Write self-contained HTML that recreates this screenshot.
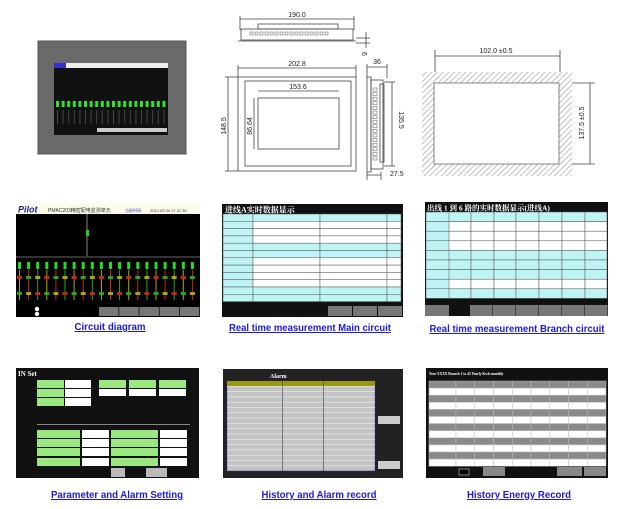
<!DOCTYPE html>
<html><head><meta charset="utf-8"><style>
html,body{margin:0;padding:0;background:#fff;width:624px;height:509px;overflow:hidden}
svg{display:block}
.lb{font-family:"Liberation Sans",Arial,sans-serif;font-weight:bold;font-size:10px;fill:#1a1ae6;text-decoration:underline}
.dim{font-family:"Liberation Sans",sans-serif;font-size:7px;fill:#222}
.cj{font-family:"Liberation Serif","Noto Serif CJK SC",serif;font-weight:bold}
.t{font-family:"Liberation Sans","Noto Sans CJK SC",sans-serif}
</style></head><body>
<svg id="s" width="624" height="509" viewBox="0 0 624 509" xmlns="http://www.w3.org/2000/svg">
<defs>
<pattern id="hatch" width="4" height="4" patternUnits="userSpaceOnUse" patternTransform="rotate(45)">
<rect width="4" height="4" fill="#fff"/><line x1="0" y1="0" x2="0" y2="4" stroke="#999" stroke-width="1.2"/></pattern>
</defs>

<!-- Photo -->
<rect x="38" y="41" width="148" height="113" fill="#6a6a6a" stroke="#555"/>
<rect x="54" y="63" width="114" height="72" fill="#111"/>
<rect x="54" y="63" width="114" height="5" fill="#eee"/>
<rect x="54" y="63" width="12" height="5" fill="#33c"/>
<g id="photoDots"></g>
<rect x="97" y="128" width="70" height="4" fill="#ccc"/>

<!-- top view -->
<g stroke="#444" fill="none" stroke-width="0.8">
<line x1="240" y1="19" x2="354" y2="19"/>
<line x1="240" y1="16" x2="240" y2="30"/><line x1="354" y1="16" x2="354" y2="30"/>
<rect x="258" y="24" width="80" height="5"/>
<rect x="241" y="29" width="112" height="11"/>
<line x1="238" y1="41" x2="356" y2="41"/>
<line x1="356" y1="38" x2="370" y2="38"/><line x1="356" y1="43" x2="370" y2="43"/>
<line x1="366" y1="32" x2="366" y2="48"/>
</g>
<g id="topHoles"></g>
<text class="dim" x="297" y="17" text-anchor="middle">190.0</text>
<text class="dim" x="364" y="54" transform="rotate(90 364 52)">6</text>

<!-- front view -->
<g stroke="#444" fill="none" stroke-width="0.8">
<line x1="238" y1="68" x2="356" y2="68"/>
<line x1="238" y1="65" x2="238" y2="77"/><line x1="356" y1="65" x2="356" y2="77"/>
<rect x="238" y="77" width="118" height="94"/>
<rect x="245" y="81" width="106" height="85"/>
<line x1="258" y1="91" x2="339" y2="91"/>
<rect x="258" y="98" width="81" height="51"/>
<line x1="228" y1="77" x2="228" y2="171"/>
<line x1="225" y1="77" x2="238" y2="77"/><line x1="225" y1="171" x2="238" y2="171"/>
<line x1="254" y1="98" x2="254" y2="149"/>
</g>
<text class="dim" x="297" y="66" text-anchor="middle">202.8</text>
<text class="dim" x="298" y="89" text-anchor="middle">153.6</text>
<text class="dim" x="226" y="126" text-anchor="middle" transform="rotate(-90 226 126)">148.5</text>
<text class="dim" x="252" y="126" text-anchor="middle" transform="rotate(-90 252 126)">86.64</text>

<!-- side view -->
<g stroke="#444" fill="none" stroke-width="0.8">
<line x1="367" y1="67" x2="387" y2="67"/>
<line x1="367" y1="64" x2="367" y2="78"/><line x1="387" y1="64" x2="387" y2="78"/>
<rect x="367" y="77" width="4" height="95"/>
<rect x="371" y="80" width="12" height="89"/>
<rect x="380" y="84" width="4" height="78"/>
<line x1="392" y1="82" x2="392" y2="166"/>
<line x1="384" y1="82" x2="395" y2="82"/><line x1="384" y1="166" x2="395" y2="166"/>
<line x1="367" y1="175" x2="381" y2="175"/>
<line x1="367" y1="172" x2="367" y2="180"/><line x1="381" y1="172" x2="381" y2="180"/>
</g>
<g id="sideHoles"></g>
<text class="dim" x="377" y="64" text-anchor="middle">36</text>
<text class="dim" x="399" y="120" text-anchor="middle" transform="rotate(90 399 120)">135.5</text>
<text class="dim" x="390" y="176">27.5</text>

<!-- cutout -->
<rect x="422" y="72" width="150" height="104" fill="url(#hatch)"/>
<rect x="434" y="83" width="125" height="81" fill="#fff" stroke="#666" stroke-width="0.8"/>
<g stroke="#444" stroke-width="0.8">
<line x1="435" y1="56" x2="560" y2="56"/>
<line x1="435" y1="50" x2="435" y2="72"/><line x1="560" y1="50" x2="560" y2="72"/>
<line x1="590" y1="83" x2="590" y2="164"/>
<line x1="572" y1="83" x2="595" y2="83"/><line x1="572" y1="164" x2="595" y2="164"/>
</g>
<text class="dim" x="496" y="53" text-anchor="middle">102.0 ±0.5</text>
<text class="dim" x="584" y="123" text-anchor="middle" transform="rotate(-90 584 123)">137.5 ±0.5</text>

<!-- Circuit diagram -->
<rect x="16" y="204" width="184" height="113" fill="#000"/>
<rect x="16" y="204" width="184" height="10" fill="#fbfbe8"/>
<text x="18" y="212.5" font-family="Liberation Sans,sans-serif" font-weight="bold" font-style="italic" font-size="9" fill="#1a2a9a">Pilot</text>
<text class="t" x="48" y="212" font-size="5" fill="#333">PMAC203精密配电监测单元</text>
<text class="t" x="125" y="212" font-size="4" fill="#33c">当前时间:</text>
<text class="t" x="150" y="212" font-size="4" fill="#333">2014 03 04 17 21 30</text>
<line x1="87" y1="214" x2="87" y2="256" stroke="#aaa" stroke-width="0.8"/>
<line x1="16" y1="257" x2="200" y2="257" stroke="#888" stroke-width="0.8"/>
<rect x="86" y="230" width="3" height="6" fill="#2c2"/>
<g id="cirg"></g>
<circle cx="37" cy="309" r="2.2" fill="#fff"/><circle cx="37" cy="314" r="2.2" fill="#fff"/>
<g id="cirb"></g>

<!-- Main circuit -->
<rect x="222" y="204" width="181" height="113" fill="#111"/>
<text class="cj" x="225" y="212.5" font-size="8" fill="#fff">进线A实时数据显示</text>
<g id="mainT"></g>
<g id="mainB"></g>

<!-- Branch circuit -->
<rect x="425" y="202" width="183" height="114" fill="#111"/>
<text class="cj" x="427" y="210.5" font-size="7.5" fill="#fff">出线 1 到 6 路的实时数据显示(进线A)</text>
<g id="brT"></g>
<g id="brB"></g>

<!-- Param -->
<rect x="16" y="368" width="183" height="110" fill="#111"/>
<text x="18" y="376" font-family="Liberation Serif,serif" font-weight="bold" font-size="7" fill="#fff">IN Set</text>
<g id="par" font-family="Liberation Sans,sans-serif" font-size="3.5" fill="#333"></g>

<!-- Alarm -->
<rect x="223" y="369" width="180" height="109" fill="#222"/>
<text x="270" y="378" font-family="Liberation Serif,serif" font-weight="bold" font-size="6" fill="#fff">Alarm</text>
<g id="alm"></g>
<rect x="378" y="416" width="22" height="8" fill="#ccc"/>
<rect x="378" y="461" width="22" height="8" fill="#ccc"/>

<!-- Energy -->
<rect x="426" y="368" width="182" height="110" fill="#111"/>
<text x="429" y="375" font-family="Liberation Serif,serif" font-weight="bold" font-size="3.6" fill="#fff">Year XXXX Branch 1 to 42 Yearly Kwh monthly</text>
<g id="eng"></g>
<rect x="483" y="467" width="22" height="9" fill="#888"/>
<rect x="557" y="467" width="25" height="9" fill="#888"/>
<rect x="584" y="467" width="22" height="9" fill="#888"/>
<rect x="459" y="469" width="10" height="6" fill="#000" stroke="#fff" stroke-width="0.5"/>

<!-- labels -->
<text class="lb" x="110" y="330" text-anchor="middle" textLength="71" lengthAdjust="spacingAndGlyphs">Circuit diagram</text>
<text class="lb" x="310" y="331" text-anchor="middle" textLength="162" lengthAdjust="spacingAndGlyphs">Real time measurement Main circuit</text>
<text class="lb" x="517" y="332" text-anchor="middle" textLength="175" lengthAdjust="spacingAndGlyphs">Real time measurement Branch circuit</text>
<text class="lb" x="117" y="498" text-anchor="middle" textLength="132" lengthAdjust="spacingAndGlyphs">Parameter and Alarm Setting</text>
<text class="lb" x="319" y="498" text-anchor="middle" textLength="115" lengthAdjust="spacingAndGlyphs">History and Alarm record</text>
<text class="lb" x="519" y="498" text-anchor="middle" textLength="104" lengthAdjust="spacingAndGlyphs">History Energy Record</text>
</svg>
<script>
function R(g,x,y,w,h,f,s){var e=document.createElementNS("http://www.w3.org/2000/svg","rect");e.setAttribute("x",x);e.setAttribute("y",y);e.setAttribute("width",w);e.setAttribute("height",h);e.setAttribute("fill",f);if(s){e.setAttribute("stroke",s);e.setAttribute("stroke-width","0.5");}document.getElementById(g).appendChild(e);return e;}
var i,j;
for(i=0;i<20;i++){R("photoDots",56+i*5.6,101,3,6,"#3d3");R("photoDots",57+i*5.6,110,1,14,"#444");}
for(i=0;i<16;i++)R("topHoles",250+i*5,32,3,3,"none","#555");
for(i=0;i<16;i++)R("sideHoles",373,88+i*4.6,4,3,"none","#555");
var cols=["#aa0","#c22","#2a2"];
for(i=0;i<20;i++){var x=18+i*9.1;R("cirg",x,262,3,7,"#2d2");R("cirg",x+1,270,1,30,cols[i%3]);R("cirg",x-1,276,5,3,cols[(i+1)%3]);R("cirg",x-1,292,5,3,cols[(i+2)%3]);}
for(i=0;i<5;i++)R("cirb",99+i*20.2,307,19.5,9,"#777");
// main table
var mx=[223,253,320,387,401],ry=214,rh=7.3;
var cy=[0,4,5,10,11];
for(i=0;i<12;i++){var c=cy.indexOf(i)>=0?"#bff4f4":"#fff";for(j=0;j<4;j++)R("mainT",mx[j],ry+i*rh,mx[j+1]-mx[j],rh,j==0?"#bff4f4":c,"#555");}
for(i=0;i<3;i++)R("mainB",328+i*25,306,24,10,"#777");
// branch
var bx=[425,449,471,494,516,539,562,585,608],cb=[0,4,5,6,8],bh=9.6;
for(i=0;i<9;i++){var c=cb.indexOf(i)>=0?"#bff4f4":"#fff";for(j=0;j<8;j++)R("brT",bx[j]+(j==0?1:0),212+i*bh,bx[j+1]-bx[j]-(j==7?1:0),bh,j==0&&i>0?"#bff4f4":c,"#555");}
R("brB",425,305,24,11,"#777");for(i=0;i<6;i++)R("brB",470+i*23,305,22.5,11,"#777");
// param
var G="#9be880";
R("par",37,380,27,8,G);R("par",65,380,26,8,"#fff");
R("par",37,389,27,8,G);R("par",65,389,26,8,"#fff");
R("par",37,398,27,8,G);R("par",65,398,26,8,"#fff");
[99,129,159].forEach(function(x){R("par",x,380,27,8,G);R("par",x,389,27,7,"#fff");});
R("par",37,424,153,1,"#888");
[430,439,448,458].forEach(function(y){R("par",37,y,43,8,G);R("par",82,y,27,8,"#fff");R("par",111,y,47,8,G);R("par",160,y,27,8,"#fff");});
R("par",111,468,14,9,"#bbb");R("par",146,468,21,9,"#bbb");
// alarm
R("alm",227,381,148,90,"#c4c4c4","#33a");R("alm",227,381,148,5,"#999910");
for(i=0;i<16;i++)R("alm",227,386+i*5.3,148,0.6,"#eee");
R("alm",282,381,0.7,90,"#555");R("alm",323,381,0.7,90,"#555");
// energy
var ex=[429,456];for(i=1;i<=8;i++)ex.push(456+i*18.75);
for(i=0;i<12;i++)for(j=0;j<9;j++)R("eng",ex[j],381+i*7.1,ex[j+1]-ex[j],7.1,i%2==0?"#8a8a8a":"#fff","#bbb");
</script>
</body></html>
